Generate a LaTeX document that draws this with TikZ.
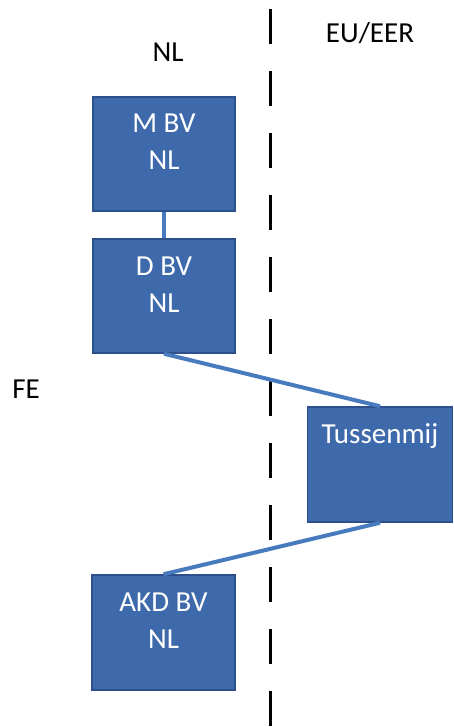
\documentclass[tikz,border=0pt]{standalone}
\usepackage{fontspec}
\setmainfont{Carlito}
\definecolor{boxfill}{RGB}{62,106,172}
\definecolor{boxline}{RGB}{45,80,140}
\definecolor{linkblue}{RGB}{72,122,190}
\tikzset{
  entity/.style={draw=boxline, line width=1.5pt, fill=boxfill, inner sep=0pt, text=white},
  link/.style={draw=linkblue, line width=4pt},
  region/.style={anchor=base, text=black, inner sep=0pt},
  border/.style={draw=black, line width=3pt, dash pattern=on 35pt off 27pt}
}
\newcommand{\boxtext}[3]{\parbox[c][#2pt][t]{#1pt}{\centering\fontsize{29}{37}\selectfont\rule{0pt}{36pt}#3}}
\begin{document}
\begin{tikzpicture}[x=1pt,y=-1pt]
\useasboundingbox (0,0) rectangle (454,727);
\coordinate (top) at (270,9);
\coordinate (bot) at (270,727);
\draw[border] (top) -- (bot);
\node[entity] (m) at (164,154) {\boxtext{142}{114}{M BV\\NL}};
\node[entity] (d) at (164,296) {\boxtext{142}{114}{D BV\\NL}};
\node[entity] (t) at (380,464.5) {\boxtext{145}{115}{Tussenmij}};
\node[entity] (a) at (163.5,632.5) {\boxtext{143}{115}{AKD BV\\NL}};
\draw[link] (m.south) -- (d.north);
\draw[link] (d.south) -- (t.north);
\draw[link] (t.south) -- (a.north);
\node[region, font=\fontsize{29}{34}\selectfont] (nl) at (168,62) {NL};
\node[region, font=\fontsize{29}{34}\selectfont] (eu) at (370,43) {EU/EER};
\node[region, font=\fontsize{29}{34}\selectfont] (fe) at (26,398) {FE};
\end{tikzpicture}
\end{document}
